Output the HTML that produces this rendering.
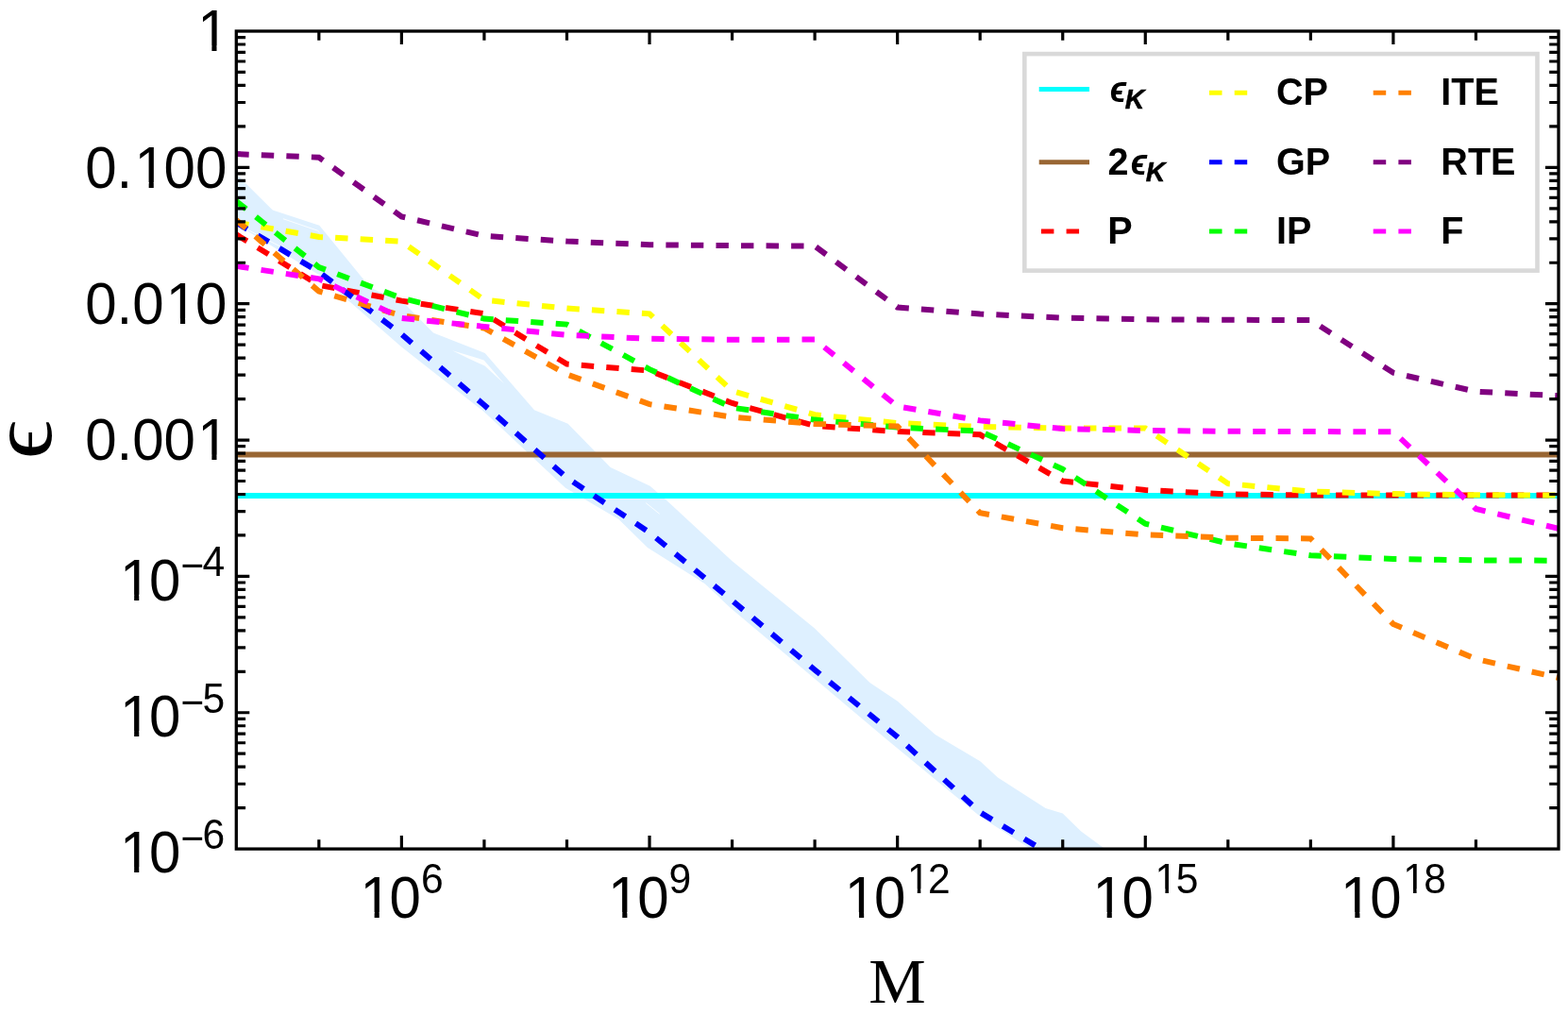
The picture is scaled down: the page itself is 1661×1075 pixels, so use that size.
<!DOCTYPE html>
<html lang="en"><head><meta charset="utf-8"><title>Error vs M</title>
<style>html,body{margin:0;padding:0;background:#fff;}body{width:1661px;height:1075px;overflow:hidden;}svg{display:block;}text{font-family:"Liberation Sans",Arial,Helvetica,sans-serif;fill:#000;}.ser{font-family:"Liberation Serif","Times New Roman",serif;}.lg{font-weight:bold;font-size:39.6px;}</style>
</head><body>
<svg width="1661" height="1075" viewBox="0 0 1661 1075">
<rect x="0" y="0" width="1661" height="1075" fill="#ffffff"/>
<defs><clipPath id="pc"><rect x="250.3" y="33" width="1400.7" height="866.1"/></clipPath></defs>
<g clip-path="url(#pc)">
<polygon fill="#def0ff" points="250.3,184.2 288.8,222.5 338.3,238.7 392.1,304.4 428,321 459,352.5 513.7,374 566,434.2 601.6,448.7 646.7,495.1 688.6,514.7 706.2,530 775.6,594.3 863,665.6 921.4,723.1 950.6,742.6 990.7,778 1038.3,806.2 1057,823.5 1107.6,856 1125.7,861.5 1145.2,880.6 1170.5,899.1 1091.7,899.1 1038.3,864.7 940,783.8 862,718 774.2,644.2 746.7,618.2 686,579.9 655.4,550 599,516.8 512.9,436.2 425.4,367.6 337.8,291 250.3,237.5"/>
<path d="M299.9 231.7L336.5 244.2L338.5 246.1M251 237.5L296 260.6M684.3 532.7L698.7 544.3" stroke="#fff" stroke-width="1" fill="none" stroke-opacity="0.85"/>
<polygon points="479.2,371.2 512.7,381.4 534.2,406.6 513.5,387.5 497,380" fill="#fff" fill-opacity="0.9"/>
<line x1="250.3" x2="1651" y1="525" y2="525" stroke="#00ffff" stroke-width="6.0"/>
<line x1="250.3" x2="1651" y1="481.55" y2="481.55" stroke="#996633" stroke-width="6.0"/>
<polyline fill="none" stroke="#ff0000" stroke-width="6.0" stroke-dasharray="13.4 13.15" stroke-linejoin="miter" points="250.3,248.4 337.84,302 425.39,318.6 512.93,332.2 600.48,385.6 688.02,392.6 775.56,427 863.11,451 950.65,457.1 1038.19,460.3 1125.74,509.5 1213.28,519 1300.83,523.4 1388.37,524.5 1475.91,524.5 1563.46,524.5 1651,524.5"/>
<polyline fill="none" stroke="#ffff00" stroke-width="6.0" stroke-dasharray="13.4 13.15" stroke-linejoin="miter" points="250.3,235.7 337.84,250.9 425.39,255.8 512.93,317.7 600.48,326.6 688.02,332.3 775.56,414.1 863.11,439.2 950.65,448.1 1038.19,452 1125.74,453.5 1213.28,453.5 1300.83,512.2 1388.37,520.5 1475.91,523.1 1563.46,524.3 1651,524.5"/>
<polyline fill="none" stroke="#0000ff" stroke-width="6.0" stroke-dasharray="13.4 13.15" stroke-linejoin="miter" points="250.3,235.7 337.84,288 425.39,354 512.93,429 600.48,506 688.02,564 775.56,636 863.11,709.5 950.65,780.5 1038.19,860.4 1125.74,913"/>
<polyline fill="none" stroke="#00ff00" stroke-width="6.0" stroke-dasharray="13.4 13.15" stroke-linejoin="miter" points="250.3,213.1 337.84,283 425.39,315.8 512.93,337.6 600.48,343.6 688.02,391.1 775.56,431.7 863.11,444.6 950.65,452.6 1038.19,456.7 1125.74,496.9 1213.28,554.7 1300.83,575.5 1388.37,588.2 1475.91,592 1563.46,593.4 1651,593.7"/>
<polyline fill="none" stroke="#ff8000" stroke-width="6.0" stroke-dasharray="13.4 13.15" stroke-linejoin="miter" points="250.3,233 337.84,308.5 425.39,334.2 512.93,347.5 600.48,396.5 688.02,428.1 775.56,441.7 863.11,449 950.65,451.5 1038.19,543.3 1125.74,559.2 1213.28,566.4 1300.83,569.7 1388.37,570.4 1475.91,661 1563.46,698 1651,717.9"/>
<polyline fill="none" stroke="#800080" stroke-width="6.0" stroke-dasharray="13.4 13.15" stroke-linejoin="miter" points="250.3,163.1 337.84,166.7 425.39,229.4 512.93,249.8 600.48,255.6 688.02,259.2 775.56,260.1 863.11,260.6 950.65,325.5 1038.19,332.5 1125.74,336.7 1213.28,338.3 1300.83,338.8 1388.37,339 1475.91,394.8 1563.46,414.7 1651,419.2"/>
<polyline fill="none" stroke="#ff00ff" stroke-width="6.0" stroke-dasharray="13.4 13.15" stroke-linejoin="miter" points="250.3,281.8 337.84,295.3 425.39,336.9 512.93,345.9 600.48,354.8 688.02,358.8 775.56,359.7 863.11,359.6 950.65,430.4 1038.19,445.4 1125.74,454.1 1213.28,456 1300.83,456.8 1388.37,457.1 1475.91,457.2 1563.46,539 1651,559.8"/>
</g>
<path d="M250.3 133.9h9.8M1651 133.9h-9.8M250.3 108.48h9.8M1651 108.48h-9.8M250.3 90.44h9.8M1651 90.44h-9.8M250.3 76.45h9.8M1651 76.45h-9.8M250.3 65.02h9.8M1651 65.02h-9.8M250.3 55.36h9.8M1651 55.36h-9.8M250.3 46.99h9.8M1651 46.99h-9.8M250.3 39.61h9.8M1651 39.61h-9.8M250.3 177.35h14M1651 177.35h-14M250.3 278.25h9.8M1651 278.25h-9.8M250.3 252.83h9.8M1651 252.83h-9.8M250.3 234.79h9.8M1651 234.79h-9.8M250.3 220.8h9.8M1651 220.8h-9.8M250.3 209.37h9.8M1651 209.37h-9.8M250.3 199.71h9.8M1651 199.71h-9.8M250.3 191.34h9.8M1651 191.34h-9.8M250.3 183.96h9.8M1651 183.96h-9.8M250.3 321.7h14M1651 321.7h-14M250.3 422.6h9.8M1651 422.6h-9.8M250.3 397.18h9.8M1651 397.18h-9.8M250.3 379.14h9.8M1651 379.14h-9.8M250.3 365.15h9.8M1651 365.15h-9.8M250.3 353.72h9.8M1651 353.72h-9.8M250.3 344.06h9.8M1651 344.06h-9.8M250.3 335.69h9.8M1651 335.69h-9.8M250.3 328.31h9.8M1651 328.31h-9.8M250.3 466.05h14M1651 466.05h-14M250.3 566.95h9.8M1651 566.95h-9.8M250.3 541.53h9.8M1651 541.53h-9.8M250.3 523.49h9.8M1651 523.49h-9.8M250.3 509.5h9.8M1651 509.5h-9.8M250.3 498.07h9.8M1651 498.07h-9.8M250.3 488.41h9.8M1651 488.41h-9.8M250.3 480.04h9.8M1651 480.04h-9.8M250.3 472.66h9.8M1651 472.66h-9.8M250.3 610.4h14M1651 610.4h-14M250.3 711.3h9.8M1651 711.3h-9.8M250.3 685.88h9.8M1651 685.88h-9.8M250.3 667.84h9.8M1651 667.84h-9.8M250.3 653.85h9.8M1651 653.85h-9.8M250.3 642.42h9.8M1651 642.42h-9.8M250.3 632.76h9.8M1651 632.76h-9.8M250.3 624.39h9.8M1651 624.39h-9.8M250.3 617.01h9.8M1651 617.01h-9.8M250.3 754.75h14M1651 754.75h-14M250.3 855.65h9.8M1651 855.65h-9.8M250.3 830.23h9.8M1651 830.23h-9.8M250.3 812.19h9.8M1651 812.19h-9.8M250.3 798.2h9.8M1651 798.2h-9.8M250.3 786.77h9.8M1651 786.77h-9.8M250.3 777.11h9.8M1651 777.11h-9.8M250.3 768.74h9.8M1651 768.74h-9.8M250.3 761.36h9.8M1651 761.36h-9.8M337.84 33v9.8M337.84 899.1v-9.8M425.39 33v14M425.39 899.1v-14M512.93 33v9.8M512.93 899.1v-9.8M600.48 33v9.8M600.48 899.1v-9.8M688.02 33v14M688.02 899.1v-14M775.56 33v9.8M775.56 899.1v-9.8M863.11 33v9.8M863.11 899.1v-9.8M950.65 33v14M950.65 899.1v-14M1038.19 33v9.8M1038.19 899.1v-9.8M1125.74 33v9.8M1125.74 899.1v-9.8M1213.28 33v14M1213.28 899.1v-14M1300.83 33v9.8M1300.83 899.1v-9.8M1388.37 33v9.8M1388.37 899.1v-9.8M1475.91 33v14M1475.91 899.1v-14M1563.46 33v9.8M1563.46 899.1v-9.8" stroke="#000" stroke-width="3.2" fill="none"/>
<rect x="250.3" y="33" width="1400.7" height="866.1" fill="none" stroke="#000" stroke-width="3.3"/>
<text transform="translate(0 54.25) scale(1 1.043)" font-size="60"><tspan x="209.21">1</tspan></text>
<text transform="translate(0 198.6) scale(1 1.043)" font-size="60"><tspan x="90.15 123.52 142.47 173.56 206.93">0.100</tspan></text>
<text transform="translate(0 342.95) scale(1 1.043)" font-size="60"><tspan x="90.15 123.52 140.19 175.84 206.93">0.010</tspan></text>
<text transform="translate(0 487.3) scale(1 1.043)" font-size="60"><tspan x="90.15 123.52 140.19 173.56 209.21">0.001</tspan></text>
<text transform="translate(0 635.5) scale(1 1.043)" font-size="60"><tspan x="126.97 158.06">10</tspan><tspan font-size="42.6" x="191.43" y="-20.9">−</tspan><tspan font-size="42.6" x="214.51" y="-24.7">4</tspan></text>
<text transform="translate(0 779.85) scale(1 1.043)" font-size="60"><tspan x="126.97 158.06">10</tspan><tspan font-size="42.6" x="191.43" y="-20.42">−</tspan><tspan font-size="42.6" x="214.51" y="-23.74">5</tspan></text>
<text transform="translate(0 924.2) scale(1 1.043)" font-size="60"><tspan x="126.97 158.06">10</tspan><tspan font-size="42.6" x="191.43" y="-20.42">−</tspan><tspan font-size="42.6" x="214.51" y="-23.74">6</tspan></text>
<text transform="translate(0 971.6) scale(1 1.043)" font-size="60"><tspan x="381.45 412.54">10</tspan><tspan font-size="42.6" x="445.91" y="-24.7">6</tspan></text>
<text transform="translate(0 971.6) scale(1 1.043)" font-size="60"><tspan x="644.08 675.17">10</tspan><tspan font-size="42.6" x="708.54" y="-24.7">9</tspan></text>
<text transform="translate(0 971.6) scale(1 1.043)" font-size="60"><tspan x="894.87 925.96">10</tspan><tspan font-size="42.6" x="960.95 983.02" y="-24.7">12</tspan></text>
<text transform="translate(0 971.6) scale(1 1.043)" font-size="60"><tspan x="1157.5 1188.59">10</tspan><tspan font-size="42.6" x="1223.58 1245.65" y="-24.7">15</tspan></text>
<text transform="translate(0 971.6) scale(1 1.043)" font-size="60"><tspan x="1420.13 1451.22">10</tspan><tspan font-size="42.6" x="1486.21 1508.28" y="-24.7">18</tspan></text>
<path d="M212.27 48.58h12.13v6.87h-12.13zM229.51 48.58h11.65v6.87h-11.65zM145.53 192.93h12.13v6.87h-12.13zM162.77 192.93h11.65v6.87h-11.65zM178.9 337.28h12.13v6.87h-12.13zM196.14 337.28h11.65v6.87h-11.65zM212.27 481.63h12.13v6.87h-12.13zM229.51 481.63h11.65v6.87h-11.65zM130.03 629.83h12.13v6.87h-12.13zM147.27 629.83h11.65v6.87h-11.65zM130.03 774.18h12.13v6.87h-12.13zM147.27 774.18h11.65v6.87h-11.65zM130.03 918.53h12.13v6.87h-12.13zM147.27 918.53h11.65v6.87h-11.65zM384.51 965.93h12.13v6.87h-12.13zM401.75 965.93h11.65v6.87h-11.65zM647.14 965.93h12.13v6.87h-12.13zM664.38 965.93h11.65v6.87h-11.65zM897.93 965.93h12.13v6.87h-12.13zM915.17 965.93h11.65v6.87h-11.65zM962.68 941.52h9.08v5.52h-9.08zM975.33 941.52h8.74v5.52h-8.74zM1160.56 965.93h12.13v6.87h-12.13zM1177.8 965.93h11.65v6.87h-11.65zM1225.31 941.52h9.08v5.52h-9.08zM1237.96 941.52h8.74v5.52h-8.74zM1423.19 965.93h12.13v6.87h-12.13zM1440.43 965.93h11.65v6.87h-11.65zM1487.95 941.52h9.08v5.52h-9.08zM1500.59 941.52h8.74v5.52h-8.74z" fill="#fff"/>
<text class="ser" x="950.5" y="1062" font-size="68" text-anchor="middle">M</text>
<text class="ser" transform="translate(53.9 486.27) rotate(-90) scale(1.093 1)" font-size="93.1">ϵ</text>
<rect x="1085.3" y="57.1" width="543.2" height="229.5" fill="#fff" stroke="#d9d9d9" stroke-width="4.6"/>
<line x1="1100.7" x2="1154" y1="94.5" y2="94.5" stroke="#00ffff" stroke-width="5"/>
<text class="lg" transform="translate(0 107.9) scale(1 1.045)"><tspan x="1175.8" style="font-size:36.3px;font-style:italic">ϵ</tspan><tspan x="1191.7" dy="6.89" style="font-size:28.5px;font-style:italic" stroke="#000" stroke-width="0.5">K</tspan></text>
<line x1="1100.7" x2="1154" y1="171.7" y2="171.7" stroke="#996633" stroke-width="5"/>
<text class="lg" transform="translate(0 184.7) scale(1 1.045)"><tspan x="1173.6">2</tspan><tspan x="1197.7" style="font-size:36.3px;font-style:italic">ϵ</tspan><tspan x="1213.7" dy="6.89" style="font-size:28.5px;font-style:italic" stroke="#000" stroke-width="0.5">K</tspan></text>
<path d="M1102.9 245.1h13.5m13.2 0h13.5" stroke="#ff0000" stroke-width="5" fill="none"/>
<text class="lg" transform="translate(1173.2 258.2) scale(1 1.043)">P</text>
<path d="M1281 98.2h13.5m13.2 0h13.5" stroke="#ffff00" stroke-width="5" fill="none"/>
<text class="lg" transform="translate(1352 111.3) scale(1 1.043)">CP</text>
<path d="M1281 171.7h13.5m13.2 0h13.5" stroke="#0000ff" stroke-width="5" fill="none"/>
<text class="lg" transform="translate(1352 184.8) scale(1 1.043)">GP</text>
<path d="M1281 245.1h13.5m13.2 0h13.5" stroke="#00ff00" stroke-width="5" fill="none"/>
<text class="lg" transform="translate(1352 258.2) scale(1 1.043)">IP</text>
<path d="M1454.7 98.2h13.5m13.2 0h13.5" stroke="#ff8000" stroke-width="5" fill="none"/>
<text class="lg" transform="translate(1526.3 111.3) scale(1 1.043)">ITE</text>
<path d="M1454.7 171.7h13.5m13.2 0h13.5" stroke="#800080" stroke-width="5" fill="none"/>
<text class="lg" transform="translate(1526.3 184.8) scale(1 1.043)">RTE</text>
<path d="M1454.7 245.1h13.5m13.2 0h13.5" stroke="#ff00ff" stroke-width="5" fill="none"/>
<text class="lg" transform="translate(1526.3 258.2) scale(1 1.043)">F</text>
</svg>
</body></html>
